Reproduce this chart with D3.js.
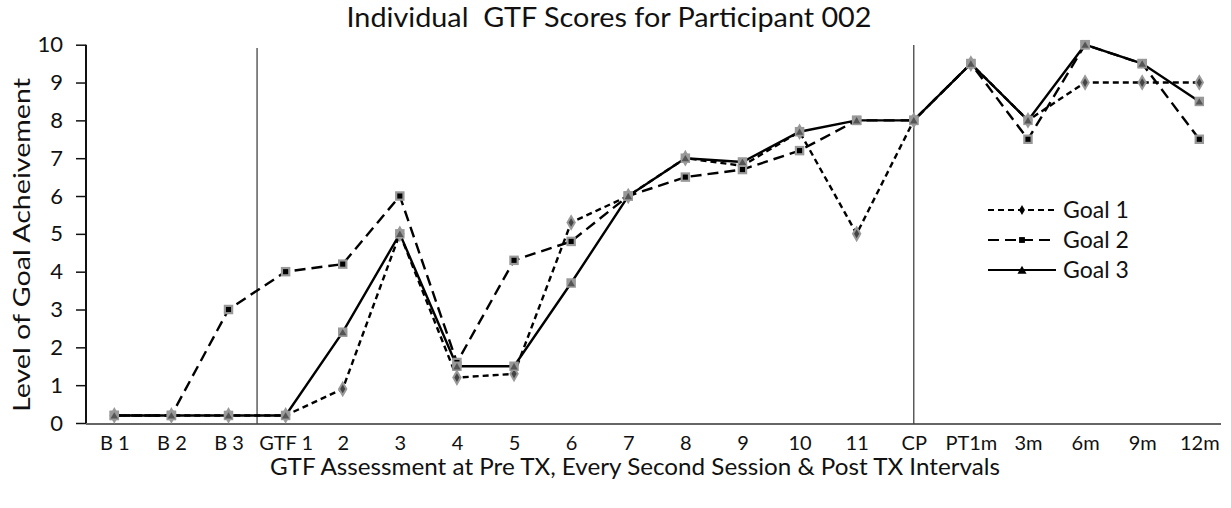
<!DOCTYPE html>
<html><head><meta charset="utf-8">
<script src="https://cdn.jsdelivr.net/npm/d3@7"></script>
<style>body{margin:0;background:#fff}svg{display:block}text{font-family:Lato,"Open Sans",sans-serif;fill:#111}</style>
</head><body>
<svg id="c" width="1231" height="508"></svg>
<script>
const categories = ["B 1","B 2","B 3","GTF 1","2","3","4","5","6","7","8","9","10","11","CP","PT1m","3m","6m","9m","12m"];
const goal1 = [0.2,0.2,0.2,0.2,0.9,5,1.2,1.3,5.3,6,7,6.8,7.7,5,8,9.5,8,9,9,9];
const goal2 = [0.2,0.2,3,4,4.2,6,1.6,4.3,4.8,6,6.5,6.7,7.2,8,8,9.5,7.5,10,9.5,7.5];
const goal3 = [0.2,0.2,0.2,0.2,2.4,5,1.5,1.5,3.7,6,7,6.9,7.7,8,8,9.5,8,10,9.5,8.5];
const yTicks = [0,1,2,3,4,5,6,7,8,9,10];
const seriesNames = ["Goal 1","Goal 2","Goal 3"];

const svg = d3.select("#c");
const x = d3.scalePoint().domain(categories).range([114.3, 1199.3]);
const y = d3.scaleLinear().domain([0,10]).range([423, 44.7]);
const step = x.step();

// title
svg.append("text").attr("x",609).attr("y",27).attr("text-anchor","middle")
  .style("white-space","pre")
  .attr("font-size",27).attr("textLength",525).attr("lengthAdjust","spacingAndGlyphs")
  .text("Individual  GTF Scores for Participant 002");

// y axis
const yAxis = svg.append("g").attr("transform","translate(86,0)")
  .call(d3.axisLeft(y).tickValues(yTicks).tickSize(10).tickPadding(13));
yAxis.select(".domain").attr("stroke","#111").attr("stroke-width",2).attr("d","M0,44.7V424");
yAxis.selectAll(".tick line").attr("stroke","#111").attr("stroke-width",1.5);
yAxis.selectAll(".tick text").attr("font-size",22).attr("font-family","Lato,sans-serif").attr("fill","#111");

// x axis
const xAxis = svg.append("g").attr("transform","translate(0,424)")
  .call(d3.axisBottom(x).tickSize(0).tickPadding(9));
xAxis.select(".domain").attr("stroke","#666").attr("stroke-width",2).attr("d","M86,0H1221");
xAxis.selectAll(".tick text").attr("font-size",20).attr("font-family","Lato,sans-serif").attr("fill","#111").attr("dy","0.85em");

// phase lines
svg.append("line").attr("x1",x("GTF 1")-step/2).attr("x2",x("GTF 1")-step/2).attr("y1",48).attr("y2",424)
  .attr("stroke","#444").attr("stroke-width",1.3);
svg.append("line").attr("x1",x("CP")).attr("x2",x("CP")).attr("y1",45).attr("y2",424)
  .attr("stroke","#444").attr("stroke-width",1.3);

// axis titles
svg.append("text").attr("x",635).attr("y",475).attr("text-anchor","middle").attr("font-size",23)
  .attr("textLength",730).attr("lengthAdjust","spacingAndGlyphs")
  .text("GTF Assessment at Pre TX, Every Second Session & Post TX Intervals");
svg.append("text").attr("transform","translate(30,245) rotate(-90)").attr("text-anchor","middle").attr("font-size",23)
  .attr("textLength",334).attr("lengthAdjust","spacingAndGlyphs")
  .text("Level of Goal Acheivement");

const series = [
  {name:seriesNames[0], values:goal1, dash:"6,4", sym:d3.symbolDiamond},
  {name:seriesNames[1], values:goal2, dash:"11,6", sym:d3.symbolSquare},
  {name:seriesNames[2], values:goal3, dash:null, sym:d3.symbolTriangle}
];
const line = d3.line().x((d,i)=>x(categories[i])).y(d=>y(d));

series.forEach(s=>{
  svg.append("path").datum(s.values).attr("d",line).attr("fill","none")
    .attr("stroke","#000").attr("stroke-width",2.4).attr("stroke-dasharray",s.dash);
});
series.forEach((s,k)=>{
  const g = svg.append("g");
  g.selectAll("path").data(s.values).join("path")
    .attr("transform",(d,i)=>`translate(${x(categories[i])},${y(d)})`)
    .attr("d",d3.symbol().type(k===0?d3.symbolDiamond:d3.symbolSquare).size(k===0?80:90))
    .attr("fill","#999");
  g.selectAll("path.in").data(s.values).join("path").attr("class","in")
    .attr("transform",(d,i)=>`translate(${x(categories[i])},${y(d)+(k===2?1:0)})`)
    .attr("d",d3.symbol().type(s.sym).size(k===0?22:(k===1?26:24)))
    .attr("fill",k===0?"#444":(k===1?"#000":"#555"));
});

// legend
const lg = svg.append("g");
series.forEach((s,k)=>{
  const yy = 210 + k*30;
  lg.append("line").attr("x1",988).attr("x2",1056).attr("y1",yy).attr("y2",yy)
    .attr("stroke","#000").attr("stroke-width",2.2).attr("stroke-dasharray",s.dash);
  lg.append("path").attr("transform",`translate(1022,${yy+(k===2?1:0)})`)
    .attr("d",d3.symbol().type(s.sym).size(k===0?30:(k===2?36:34))).attr("fill","#000");
  lg.append("text").attr("x",1063).attr("y",yy+8).attr("font-size",23).text(s.name);
});
</script>
</body></html>
